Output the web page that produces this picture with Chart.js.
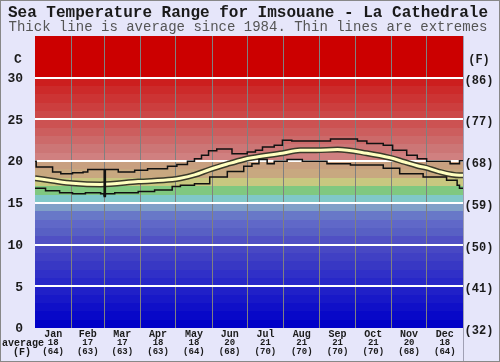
<!DOCTYPE html>
<html>
<head>
<meta charset="utf-8">
<script src="https://cdn.jsdelivr.net/npm/chart.js@4"></script>
<style>
  html, body { margin: 0; padding: 0; background: #e6e6fa; }
  canvas { display: block; }
</style>
</head>
<body>
<canvas id="chart" width="500" height="362"></canvas>
<script>
// ---- data ----
const MONTHS      = ['Jan','Feb','Mar','Apr','May','Jun','Jul','Aug','Sep','Oct','Nov','Dec'];
const MONTH_START = [0, 31, 59, 90, 120, 151, 181, 212, 243, 273, 304, 334, 365];
const AVG_C       = [18, 17, 17, 18, 18, 20, 21, 21, 21, 21, 20, 18];
const AVG_F       = [64, 63, 63, 63, 64, 68, 70, 70, 70, 70, 68, 64];
const TICKS_C     = [0, 5, 10, 15, 20, 25, 30];
const TICKS_F     = ['(32)', '(41)', '(50)', '(59)', '(68)', '(77)', '(86)'];

// day of year -> deg C
const maxDays  = [0, 1, 15, 22, 32, 41, 45, 58, 59, 60, 71, 85, 96, 113, 121, 130, 136, 142, 148, 155, 168, 181, 188, 194, 204, 211, 219, 243, 252, 275, 283, 297, 305, 317, 326, 334, 354, 362, 365];
const maxTemps = [20.0, 19.3, 18.7, 18.5, 18.6, 18.7, 19.0, 19.0, 15.9, 19.0, 18.7, 18.9, 19.1, 19.4, 19.6, 20.0, 20.3, 20.7, 21.25, 21.45, 20.9, 21.1, 21.3, 21.7, 21.9, 22.5, 22.4, 22.4, 22.65, 22.4, 22.1, 21.9, 21.3, 20.7, 20.3, 20.0, 19.7, 20.05, 20.05];

const minDays  = [0, 9, 21, 32, 43, 56, 59, 60, 68, 88, 102, 117, 124, 136, 149, 164, 178, 185, 191, 198, 204, 215, 228, 249, 269, 297, 311, 331, 351, 360, 362, 365];
const minTemps = [16.75, 16.45, 16.2, 16.1, 16.2, 16.1, 15.75, 16.1, 16.2, 16.35, 16.55, 16.95, 17.1, 17.3, 18.1, 18.75, 19.4, 19.7, 20.2, 19.7, 20.0, 20.2, 20.0, 19.7, 19.55, 19.15, 18.5, 18.1, 17.7, 17.1, 16.75, 16.7];

const avgDays  = [0, 15, 32, 56, 88, 117, 124, 136, 149, 164, 178, 185, 211, 226, 240, 258, 283, 303, 315, 326, 334, 343, 362, 365];
const avgTemps = [17.95, 17.65, 17.35, 17.2, 17.55, 17.8, 17.95, 18.35, 19.0, 19.65, 20.2, 20.4, 20.95, 21.3, 21.3, 21.4, 20.95, 20.4, 19.9, 19.45, 19.2, 18.8, 18.3, 18.3];

// one colour per degree band, 0-1 up to 29-30 (above 30 is plain red)
const BAND_COLORS = [
  '#0000c8', '#0808c8', '#1010c8', '#1818c8', '#2020c8',
  '#2828c8', '#3030c8', '#3838c4', '#4040c4', '#4848c4',
  '#5050c4', '#5860c4', '#6068c8', '#6878c8', '#80a0c8',
  '#80c8c8', '#80c880', '#c8c880', '#c8a880', '#c8a080',
  '#d08080', '#cc7676', '#cc6a6a', '#cc5e5e', '#cc5252',
  '#cc4848', '#cc3e3e', '#cc3434', '#cc2a2a', '#cc1e1e'
];

const pts = (xs, ys) => xs.map((d, i) => ({ x: d, y: ys[i] }));
const MONO = "'Liberation Mono', 'DejaVu Sans Mono', monospace";

const backdrop = {
  id: 'backdrop',
  beforeDraw(chart) {
    const { ctx, chartArea: a, scales: { y } } = chart;
    ctx.save();
    ctx.fillStyle = '#e6e6fa';
    ctx.fillRect(0, 0, chart.width, chart.height);
    ctx.fillStyle = '#cc0000';
    ctx.fillRect(a.left, a.top, a.right - a.left, a.bottom - a.top);
    BAND_COLORS.forEach((c, i) => {
      const top = Math.round(y.getPixelForValue(i + 1));
      const bot = Math.round(y.getPixelForValue(i));
      ctx.fillStyle = c;
      ctx.fillRect(a.left, top, a.right - a.left, bot - top);
    });
    ctx.restore();
  },
  afterDraw(chart) {
    const { ctx, chartArea: a, scales: { x, y } } = chart;
    ctx.save();
    ctx.textAlign = 'center';
    ctx.textBaseline = 'middle';

    // titles
    ctx.fillStyle = '#1a1a1a';
    ctx.font = 'bold 16px ' + MONO;
    ctx.fillText('Sea Temperature Range for Imsouane - La Cathedrale', 248, 13);
    ctx.fillStyle = '#555555';
    ctx.font = '14px ' + MONO;
    ctx.fillText('Thick line is average since 1984. Thin lines are extremes', 248, 27);

    // y axis labels
    ctx.fillStyle = '#1a1a1a';
    ctx.font = 'bold 13px ' + MONO;
    ctx.fillText('C', 18, 60);
    ctx.font = 'bold 12px ' + MONO;
    ctx.fillText('(F)', 479, 60);
    TICKS_C.forEach((v, i) => {
      const py = y.getPixelForValue(v) + 1;
      ctx.font = 'bold 13px ' + MONO;
      ctx.textAlign = 'right';
      ctx.fillText(String(v), 23, py);
      ctx.font = 'bold 12px ' + MONO;
      ctx.textAlign = 'center';
      ctx.fillText(TICKS_F[i], 479, py + 2);
    });

    // month labels with monthly averages
    MONTHS.forEach((m, i) => {
      const px = x.getPixelForValue((MONTH_START[i] + MONTH_START[i + 1]) / 2);
      ctx.font = 'bold 10px ' + MONO;
      ctx.fillText(m, px, 334);
      ctx.font = 'bold 9px ' + MONO;
      ctx.fillText(String(AVG_C[i]), px, 343);
      ctx.fillText('(' + AVG_F[i] + ')', px, 352);
    });
    ctx.font = 'bold 10px ' + MONO;
    ctx.textAlign = 'left';
    ctx.fillText('average', 2, 343);
    ctx.textAlign = 'center';
    ctx.fillText('(F)', 22, 352);

    // frames
    ctx.strokeStyle = '#a0a0b4';
    ctx.lineWidth = 1;
    ctx.beginPath();
    ctx.moveTo(a.right + 0.5, a.top);
    ctx.lineTo(a.right + 0.5, chart.height);
    ctx.stroke();
    ctx.strokeStyle = '#888888';
    ctx.strokeRect(0.5, 0.5, chart.width - 1, chart.height - 1);
    ctx.restore();
  }
};

new Chart(document.getElementById('chart'), {
  type: 'line',
  data: {
    datasets: [
      {
        label: 'max',
        data: pts(maxDays, maxTemps),
        borderColor: '#111111',
        borderWidth: 1.5,
        stepped: 'before',
        pointRadius: 0,
        order: 0
      },
      {
        label: 'min',
        data: pts(minDays, minTemps),
        borderColor: '#111111',
        borderWidth: 1.5,
        stepped: 'before',
        pointRadius: 0,
        order: 0
      },
      {
        label: 'average',
        data: pts(avgDays, avgTemps),
        borderColor: '#ffffc0',
        borderWidth: 3,
        cubicInterpolationMode: 'monotone',
        pointRadius: 0,
        order: 1
      },
      {
        label: 'average outline',
        data: pts(avgDays, avgTemps),
        borderColor: '#3a3a2a',
        borderWidth: 6,
        cubicInterpolationMode: 'monotone',
        pointRadius: 0,
        order: 2
      }
    ]
  },
  options: {
    responsive: false,
    animation: false,
    layout: { padding: { left: 35, right: 37, top: 36, bottom: 34 } },
    plugins: {
      legend: { display: false },
      title: { display: false },
      tooltip: { enabled: false }
    },
    scales: {
      x: {
        type: 'linear',
        min: 0,
        max: 365,
        afterBuildTicks: s => { s.ticks = MONTH_START.slice(1, 12).map(v => ({ value: v })); },
        afterFit: s => { s.height = 0; },
        ticks: { display: false },
        grid: { color: '#808080', lineWidth: 1, drawTicks: false },
        border: { display: false }
      },
      y: {
        min: 0,
        max: 35,
        afterBuildTicks: s => { s.ticks = TICKS_C.map(v => ({ value: v })); },
        afterFit: s => { s.width = 0; },
        ticks: { display: false },
        grid: {
          color: c => (c.tick && c.tick.value > 0 ? '#ffffff' : 'rgba(0,0,0,0)'),
          lineWidth: 2,
          drawTicks: false
        },
        border: { display: false }
      }
    }
  },
  plugins: [backdrop]
});
</script>
</body>
</html>
